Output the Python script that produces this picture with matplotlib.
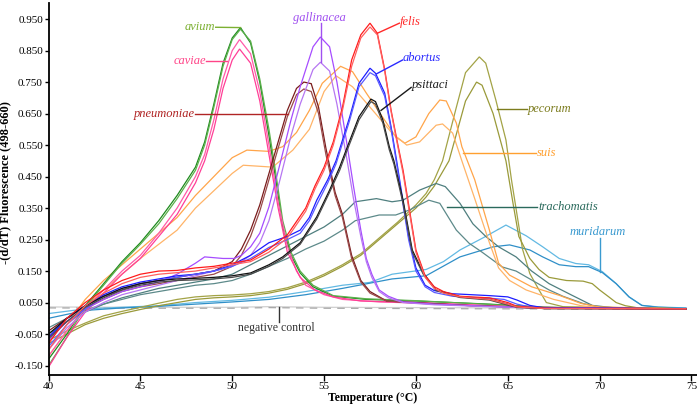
import matplotlib
matplotlib.use("Agg")
import matplotlib.pyplot as plt

plt.rcParams['font.family'] = ['Liberation Serif', 'DejaVu Serif']

# ---- data: (temperature °C, -(d/dT) fluorescence) ----
avium_a = [(40,-0.13),(41,-0.05),(42,0.04),(43,0.11),(44,0.18),(45,0.24),(46,0.31),(47,0.39),(48,0.48),(48.5,0.56),(49,0.68),(49.5,0.81),(50,0.89),(50.45,0.923),(51,0.874),(51.5,0.75),(52,0.58),(52.4,0.43),(52.75,0.29),(53.2,0.2),(53.7,0.144),(54.4,0.1),(55.5,0.07),(57.3,0.06),(60,0.055),(62,0.05),(64,0.045),(67,0.035),(70,0.032),(74.7,0.03)]
avium_b = [(40,-0.15),(41,-0.06),(42,0.035),(43,0.105),(44,0.175),(45,0.235),(46,0.3),(47,0.38),(48,0.47),(48.5,0.55),(49,0.67),(49.5,0.8),(50,0.885),(50.45,0.918),(51,0.88),(51.5,0.76),(52,0.6),(52.4,0.45),(52.75,0.31),(53.2,0.21),(53.7,0.15),(54.4,0.105),(55.5,0.072),(57.3,0.062),(60,0.056),(62,0.05),(64,0.044),(67,0.035),(70,0.032),(74.7,0.03)]
caviae_a = [(40,-0.12),(41,-0.04),(42,0.03),(43,0.09),(44,0.15),(45,0.2),(46,0.27),(47,0.35),(48,0.45),(48.5,0.52),(49,0.63),(49.5,0.76),(50,0.85),(50.4,0.885),(51,0.84),(51.5,0.72),(52,0.55),(52.5,0.37),(53,0.23),(53.5,0.15),(54,0.105),(55,0.075),(56,0.06),(58,0.052),(62,0.045),(66,0.035),(74.7,0.03)]
caviae_b = [(40,-0.155),(41,-0.06),(42,0.02),(43,0.08),(44,0.14),(45,0.19),(46,0.26),(47,0.33),(48,0.43),(48.5,0.5),(49,0.6),(49.5,0.73),(50,0.82),(50.4,0.855),(51,0.81),(51.5,0.69),(52,0.52),(52.5,0.35),(53,0.21),(53.7,0.13),(54.5,0.09),(55.5,0.068),(57,0.055),(60,0.05),(63,0.042),(66,0.034),(74.7,0.03)]
pneumoniae_a = [(40,-0.04),(41,0.0),(42,0.04),(43,0.07),(44,0.09),(45,0.11),(46,0.12),(47,0.13),(48,0.14),(49,0.15),(50,0.18),(50.5,0.22),(51,0.28),(51.5,0.36),(52,0.46),(52.5,0.56),(53,0.66),(53.5,0.73),(53.9,0.75),(54.3,0.745),(54.7,0.67),(55.1,0.54),(55.6,0.4),(56,0.33),(56.5,0.2),(57,0.12),(57.5,0.085),(58.4,0.055),(60,0.05),(63,0.04),(66,0.035),(74.7,0.03)]
pneumoniae_b = [(40,-0.06),(41,-0.01),(42,0.03),(43,0.06),(44,0.085),(45,0.1),(46,0.11),(47,0.12),(48,0.13),(49,0.14),(50,0.165),(50.5,0.2),(51,0.26),(51.5,0.34),(52,0.44),(52.5,0.54),(53,0.64),(53.5,0.71),(53.9,0.728),(54.3,0.72),(54.7,0.65),(55.1,0.52),(55.6,0.39),(56,0.32),(56.5,0.19),(57,0.115),(57.5,0.08),(58.4,0.055),(60,0.048),(63,0.04),(66,0.034),(74.7,0.03)]
gallinacea_a = [(40,-0.07),(41,-0.01),(42,0.03),(43,0.06),(44,0.085),(45,0.1),(46,0.115),(47,0.14),(48,0.175),(48.5,0.195),(49.5,0.19),(50.1,0.19),(50.5,0.2),(51,0.227),(51.5,0.27),(52,0.354),(52.6,0.49),(53.2,0.63),(53.7,0.735),(54.4,0.862),(54.8,0.893),(55.3,0.862),(55.7,0.75),(56.2,0.57),(56.6,0.42),(57,0.28),(57.3,0.19),(57.6,0.14),(58,0.09),(58.5,0.07),(59.3,0.052),(61,0.045),(64,0.038),(67,0.033),(74.7,0.03)]
gallinacea_b = [(40,-0.1),(41,-0.03),(42,0.02),(43,0.05),(44,0.075),(45,0.09),(46,0.105),(47,0.12),(48,0.135),(49,0.15),(50,0.165),(50.5,0.18),(51,0.2),(51.5,0.24),(52,0.31),(52.6,0.44),(53.2,0.58),(53.7,0.68),(54.4,0.79),(54.8,0.813),(55.3,0.785),(55.7,0.68),(56.2,0.52),(56.6,0.38),(57,0.26),(57.3,0.18),(57.6,0.13),(58,0.085),(58.5,0.065),(59.3,0.05),(61,0.043),(64,0.037),(67,0.032),(74.7,0.03)]
felis_a = [(40,-0.08),(41,0.0),(42,0.05),(43,0.09),(44,0.12),(45,0.14),(46,0.15),(47,0.152),(48,0.16),(49,0.165),(50,0.175),(51,0.185),(52,0.22),(53,0.265),(54,0.35),(54.5,0.42),(55,0.48),(55.5,0.56),(56,0.67),(56.5,0.82),(57,0.9),(57.5,0.937),(57.9,0.905),(58.3,0.79),(58.65,0.66),(59,0.556),(59.3,0.47),(59.65,0.344),(60,0.217),(60.5,0.135),(61,0.1),(61.5,0.085),(62.4,0.07),(64,0.065),(65,0.05),(65.5,0.038),(67,0.032),(74.7,0.03)]
felis_b = [(40,-0.1),(41,-0.02),(42,0.04),(43,0.08),(44,0.11),(45,0.13),(46,0.14),(47,0.145),(48,0.15),(49,0.16),(50,0.17),(51,0.18),(52,0.21),(53,0.255),(54,0.34),(54.5,0.41),(55,0.47),(55.5,0.55),(56,0.66),(56.5,0.8),(57,0.89),(57.5,0.925),(57.9,0.9),(58.3,0.785),(58.65,0.655),(59,0.55),(59.3,0.46),(59.65,0.335),(60,0.21),(60.5,0.13),(61,0.095),(61.5,0.08),(62.4,0.068),(64,0.06),(65,0.045),(65.5,0.036),(67,0.031),(74.7,0.03)]
abortus_a = [(40,-0.06),(41,0.0),(42,0.04),(43,0.075),(44,0.1),(45,0.115),(46,0.125),(47,0.135),(48,0.14),(49,0.15),(50,0.17),(51,0.2),(52,0.24),(53,0.26),(53.7,0.28),(54.2,0.32),(54.6,0.375),(55.2,0.44),(55.65,0.5),(56.4,0.64),(56.9,0.746),(57.5,0.794),(57.8,0.778),(58.3,0.715),(58.65,0.607),(58.95,0.5),(59.3,0.37),(59.6,0.26),(60,0.16),(60.5,0.105),(61,0.088),(62,0.078),(63,0.075),(64,0.072),(65,0.068),(65.5,0.058),(66.2,0.041),(67,0.033),(74.7,0.03)]
abortus_b = [(40,-0.09),(41,-0.02),(42,0.03),(43,0.07),(44,0.095),(45,0.11),(46,0.12),(47,0.13),(48,0.14),(49,0.15),(50,0.165),(51,0.19),(52,0.225),(53,0.25),(53.7,0.27),(54.2,0.31),(54.6,0.36),(55.2,0.43),(55.65,0.49),(56.4,0.63),(56.9,0.735),(57.5,0.78),(57.8,0.77),(58.3,0.705),(58.65,0.6),(58.95,0.49),(59.3,0.36),(59.6,0.25),(60,0.15),(60.5,0.1),(61,0.082),(62,0.07),(63,0.066),(64,0.064),(64.8,0.06),(65.5,0.045),(66.2,0.036),(67,0.032),(74.7,0.03)]
psittaci_a = [(40,-0.05),(41,0.0),(42,0.04),(43,0.07),(44,0.095),(45,0.11),(46,0.12),(47,0.125),(48,0.127),(49,0.13),(50,0.135),(51,0.144),(52,0.17),(52.75,0.195),(53.7,0.24),(54.6,0.322),(55.3,0.407),(55.85,0.48),(56.2,0.534),(56.9,0.64),(57.55,0.696),(57.8,0.688),(58.2,0.63),(58.55,0.545),(58.8,0.5),(59.3,0.375),(59.8,0.217),(60.4,0.144),(61.1,0.09),(62.4,0.068),(64,0.06),(65,0.045),(65.5,0.036),(67,0.031),(74.7,0.03)]
psittaci_b = [(40,-0.065),(41,-0.01),(42,0.035),(43,0.065),(44,0.09),(45,0.105),(46,0.115),(47,0.12),(48,0.122),(49,0.125),(50,0.13),(51,0.14),(52,0.165),(52.75,0.19),(53.7,0.235),(54.6,0.315),(55.3,0.4),(55.85,0.47),(56.2,0.525),(56.9,0.63),(57.55,0.688),(57.8,0.68),(58.2,0.62),(58.55,0.535),(58.8,0.49),(59.3,0.365),(59.8,0.21),(60.4,0.14),(61.1,0.088),(62.4,0.066),(64,0.058),(65,0.042),(65.5,0.035),(67,0.031),(74.7,0.03)]
pecorum_a = [(40,-0.07),(41,-0.04),(42,-0.015),(43,0.008),(44,0.022),(45,0.035),(46,0.048),(47,0.06),(48,0.068),(49,0.072),(50,0.074),(51,0.078),(52,0.085),(53,0.097),(54,0.115),(55,0.14),(56,0.17),(57,0.205),(58,0.255),(59,0.305),(60,0.36),(60.55,0.396),(61,0.44),(61.45,0.5),(62.2,0.67),(62.7,0.78),(63.45,0.83),(63.8,0.81),(64.35,0.693),(64.9,0.566),(65.2,0.44),(65.5,0.33),(65.8,0.22),(66.2,0.142),(66.7,0.09),(67.1,0.05),(68,0.037),(74.7,0.03)]
pecorum_b = [(40,-0.08),(41,-0.05),(42,-0.02),(43,0.0),(44,0.015),(45,0.028),(46,0.04),(47,0.05),(48,0.06),(49,0.065),(50,0.068),(51,0.072),(52,0.08),(53,0.092),(54,0.11),(55,0.135),(56,0.165),(57,0.2),(58,0.25),(59,0.3),(60,0.35),(60.55,0.385),(61,0.42),(61.8,0.5),(62.7,0.69),(63.3,0.75),(63.6,0.74),(64.2,0.65),(64.9,0.5),(65.3,0.36),(65.6,0.26),(66.2,0.19),(66.7,0.155),(67.25,0.13),(68.2,0.12),(69.1,0.118),(69.6,0.11),(70,0.09),(70.5,0.068),(70.9,0.05),(71.4,0.04),(72,0.034),(74.7,0.03)]
suis_a = [(40,-0.1),(41,-0.02),(42,0.06),(43,0.12),(44,0.17),(45,0.22),(46,0.27),(47,0.32),(48,0.39),(49,0.45),(50,0.51),(50.8,0.534),(52,0.53),(52.75,0.545),(53.5,0.59),(54.2,0.66),(54.9,0.746),(55.9,0.80),(56.55,0.783),(57.3,0.715),(58.4,0.62),(58.9,0.576),(59.4,0.556),(60,0.576),(60.7,0.65),(61.3,0.693),(61.65,0.69),(62.2,0.62),(62.5,0.545),(63.2,0.44),(64,0.28),(64.5,0.175),(65.1,0.137),(66.3,0.1),(67.8,0.073),(69,0.047),(70,0.036),(74.7,0.03)]
suis_b = [(40,-0.12),(41,-0.04),(42,0.04),(43,0.09),(44,0.14),(45,0.19),(46,0.235),(47,0.28),(48,0.35),(49,0.405),(50,0.46),(50.6,0.486),(52.2,0.48),(53.3,0.534),(54.2,0.6),(55,0.72),(55.65,0.77),(56.55,0.735),(57.8,0.65),(58.7,0.588),(59.5,0.55),(60.2,0.56),(61.1,0.613),(61.45,0.617),(62,0.588),(62.5,0.5),(63.2,0.38),(64,0.24),(64.5,0.16),(65.1,0.12),(66,0.09),(67.5,0.06),(69,0.04),(70,0.033),(74.7,0.03)]
trachomatis_a = [(40,-0.05),(41,-0.01),(42,0.02),(43,0.045),(44,0.065),(45,0.08),(46,0.095),(47,0.105),(48,0.115),(49,0.125),(50,0.14),(51,0.17),(52,0.2),(53,0.23),(54,0.26),(55,0.29),(56,0.33),(56.7,0.37),(57.85,0.38),(58.7,0.37),(59.3,0.375),(60.2,0.407),(61.1,0.428),(61.6,0.418),(62.4,0.365),(63.1,0.3),(63.8,0.26),(64.5,0.227),(65.45,0.195),(66.3,0.15),(67.25,0.11),(68.5,0.073),(69.6,0.041),(71,0.032),(74.7,0.03)]
trachomatis_b = [(40,-0.03),(41,0.0),(42,0.025),(43,0.045),(44,0.06),(45,0.075),(46,0.085),(47,0.095),(48,0.105),(49,0.11),(50,0.12),(51,0.14),(52,0.165),(53,0.19),(54,0.22),(55,0.245),(56,0.28),(56.7,0.31),(58,0.328),(58.9,0.328),(59.65,0.344),(60.7,0.375),(61.3,0.365),(62.2,0.28),(62.9,0.238),(63.6,0.21),(64.7,0.163),(65.45,0.15),(66.2,0.125),(67.25,0.09),(68,0.07),(69.1,0.047),(70,0.035),(74.7,0.03)]
muridarum_a = [(40,0.015),(42,0.03),(44,0.035),(46,0.04),(48,0.05),(50,0.057),(52,0.067),(54,0.085),(56,0.105),(57.5,0.114),(58.7,0.14),(60.55,0.155),(61.5,0.18),(62.4,0.217),(63.8,0.26),(64.9,0.296),(66,0.262),(66.9,0.227),(67.8,0.19),(68.7,0.174),(69.4,0.17),(70.15,0.148),(70.9,0.11),(71.6,0.068),(72.3,0.041),(73.2,0.036),(74.7,0.033)]
muridarum_b = [(40,0.0),(42,0.025),(44,0.033),(46,0.038),(48,0.045),(50,0.052),(52,0.06),(54,0.075),(56,0.095),(58.7,0.125),(60.55,0.135),(62.4,0.195),(64.2,0.227),(65.1,0.233),(66.2,0.217),(66.9,0.195),(67.8,0.17),(68.7,0.164),(69.4,0.164),(70.15,0.145),(70.9,0.11),(71.6,0.068),(72.3,0.041),(73.2,0.035),(74.7,0.032)]
negative_a = [(40,0.036),(45,0.035),(50,0.035),(52,0.037),(55,0.035),(60,0.034),(65,0.033),(70,0.032),(74.7,0.031)]
negative_b = [(40,0.033),(45,0.032),(50,0.032),(52,0.034),(55,0.032),(60,0.031),(65,0.03),(70,0.029),(74.7,0.029)]

x_ticks = [40, 45, 50, 55, 60, 65, 70, 75]
y_ticks = [-0.150, -0.050, 0.050, 0.150, 0.250, 0.350, 0.450, 0.550, 0.650, 0.750, 0.850, 0.950]

curves = [
    (negative_a, '#cfcfcf', '-'), (negative_b, '#a8a8a8', (0, (6, 5))),
    (muridarum_a, '#62b9e3', '-'), (muridarum_b, '#2f8fc8', '-'),
    (pecorum_a, '#a3a346', '-'), (pecorum_b, '#9a9a3a', '-'),
    (trachomatis_a, '#4f7f7f', '-'), (trachomatis_b, '#5d8a8a', '-'),
    (suis_a, '#ffa54a', '-'), (suis_b, '#ffb468', '-'),
    (avium_a, '#1e8a1e', '-'), (avium_b, '#5cb04c', '-'),
    (caviae_a, '#ff5aa8', '-'), (caviae_b, '#ff3e96', '-'),
    (pneumoniae_a, '#7a1c1c', '-'), (pneumoniae_b, '#9a4a4a', '-'),
    (gallinacea_a, '#a64cff', '-'), (gallinacea_b, '#b676f2', '-'),
    (abortus_a, '#1c1cff', '-'), (abortus_b, '#5a5aff', '-'),
    (psittaci_a, '#111111', '-'), (psittaci_b, '#4a4a4a', '-'),
    (felis_a, '#ff1c1c', '-'), (felis_b, '#ff6060', '-'),
]

fig = plt.figure(figsize=(6.97, 4.07), dpi=100)
ax = fig.add_axes([0.0696, 0.0786, 0.9304, 0.914])

for data, col, ls in curves:
    xs = [p[0] for p in data]
    ys = [p[1] for p in data]
    ax.plot(xs, ys, color=col, lw=0.9, ls=ls, solid_joinstyle='miter')

# labels: text, text pos, ha, connector start, connector end, color
labels = [
    ('avium', (49.05, 0.924), 'right', (49.1, 0.924), (50.45, 0.923), '#7cb032'),
    ('caviae', (48.56, 0.817), 'right', (48.6, 0.817), (49.7, 0.817), '#ff4488'),
    ('pneumoniae', (47.96, 0.648), 'right', (48.0, 0.648), (53.03, 0.648), '#b02424'),
    ('felis', (59.15, 0.941), 'left', (59.1, 0.937), (57.9, 0.905), '#ff2a2a'),
    ('abortus', (59.3, 0.826), 'left', (59.27, 0.82), (57.85, 0.776), '#2a2aff'),
    ('psittaci', (59.78, 0.742), 'left', (59.74, 0.733), (58.1, 0.66), '#1a1a1a'),
    ('pecorum', (66.1, 0.664), 'left', (66.05, 0.664), (64.44, 0.664), '#7c7c1e'),
    ('suis', (66.6, 0.525), 'left', (66.55, 0.525), (62.55, 0.525), '#ffa030'),
    ('trachomatis', (66.65, 0.352), 'left', (66.6, 0.352), (61.7, 0.352), '#2a6a5c'),
]
for txt, tpos, ha, p0, p1, col in labels:
    ax.plot([p0[0], p1[0]], [p0[1], p1[1]], color=col, lw=1.0)
    ax.text(tpos[0], tpos[1], txt, ha=ha, va='center', style='italic',
            fontsize=9, color=col)

# gallinacea (vertical connector)
ax.plot([54.85, 54.85], [0.937, 0.813], color='#a050f0', lw=1.0)
ax.text(54.75, 0.953, 'gallinacea', ha='center', va='center', style='italic',
        fontsize=9, color='#a050f0')
# muridarum
ax.plot([70.0, 70.0], [0.255, 0.148], color='#3a9ad0', lw=1.0)
ax.text(69.9, 0.275, 'muridarum', ha='center', va='center', style='italic',
        fontsize=9, color='#3a9ad0')
# negative control
ax.plot([52.53, 52.53], [0.036, -0.011], color='#333333', lw=1.0)
ax.text(52.4, -0.031, 'negative control', ha='center', va='center',
        fontsize=8.5, color='#333333')

ax.set_xlim(40, 75.3)
ax.set_ylim(-0.180, 1.001)
ax.set_xticks(x_ticks)
ax.set_yticks(y_ticks)
ax.set_yticklabels([f'{v:.3f}' for v in y_ticks])
ax.tick_params(axis='both', labelsize=8, direction='out', width=1.0, color='black')
ax.tick_params(axis='y', length=3, pad=1)
ax.tick_params(axis='x', length=4, pad=1)
for s in ['top', 'right']:
    ax.spines[s].set_visible(False)
for s in ['left', 'bottom']:
    ax.spines[s].set_linewidth(1.3)

ax.set_xlabel('Temperature (°C)', fontsize=8.5, fontweight='bold')
ax.xaxis.set_label_coords(0.5, -0.045)
ax.set_ylabel('-(d/dT) Fluorescence (498-660)', fontsize=9, fontweight='bold')
ax.yaxis.set_label_coords(-0.058, 0.516)

fig.savefig('out.png', dpi=100)
